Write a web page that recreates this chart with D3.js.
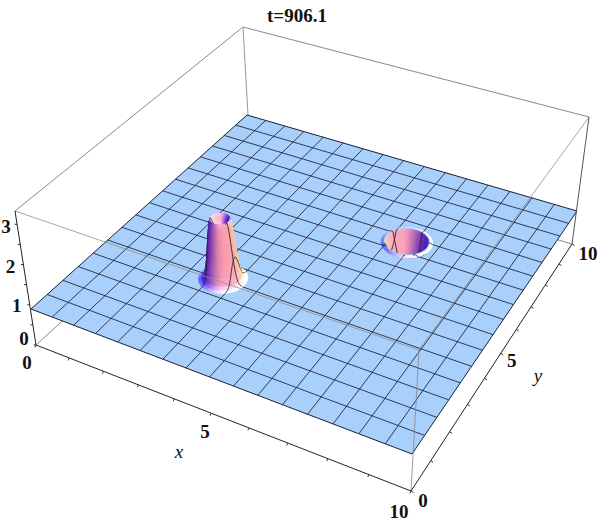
<!DOCTYPE html>
<html><head><meta charset="utf-8">
<script src="https://cdn.jsdelivr.net/npm/d3@7"></script>
<style>html,body{margin:0;background:#fff}svg{display:block}text{font-family:"Liberation Serif",serif;fill:#111}</style>
</head><body><svg id="c" width="600" height="525"></svg>
<script>
// ---- data ----
const titleText = "t=906.1";
const xyDomain = [0, 10];
const zDomain = [0, 3.33];
const planeZ = 0.9;
const meshCells = 16;
const xMinorTicks = [0,1,2,3,4,5,6,7,8,9,10];
const yMinorTicks = [0,1,2,3,4,5,6,7,8,9,10];
const zMinorTicks = [0,0.5,1,1.5,2,2.5,3];
const peakCentre = [3.39, 3.19];
const peakRadius = [0, 0.08, 0.14, 0.20, 0.24, 0.27, 0.32, 0.37, 0.42, 0.47, 0.53, 0.60];
const peakHeight = [2.12, 2.14, 2.22, 2.34, 2.40, 2.30, 1.90, 1.45, 1.15, 0.98, 0.92, 0.9];
const holeCentre = [6.7, 6.65];
const holeRadius = [0, 0.20, 0.40, 0.50, 0.55, 0.58, 0.66];
const holeHeight = [-0.30, -0.10, 0.30, 0.72, 0.92, 0.92, 0.9];
// screen frame of the box (projection calibration)
const floorQuad = [[36,345],[411,491],[572,244],[250,150]];
const ceilQuad  = [[15,211],[419,350],[589,117],[243,27]];
const planeQuad = [[31,309],[412,454],[577,211],[247,115]];
const planeFill = "#a8d0fa";
const meshColor = "#1b2036";
const frameColor = "#8a8a8a";
const axisColor = "#222";

const svg = d3.select("#c");
const sx = d3.scaleLinear().domain(xyDomain).range([0,1]);
const sy = d3.scaleLinear().domain(xyDomain).range([0,1]);
const sz = d3.scaleLinear().domain(zDomain).range([0,1]);
const peakZ = d3.scaleLinear().domain(peakRadius).range(peakHeight).clamp(true);
const holeZ = d3.scaleLinear().domain(holeRadius).range(holeHeight).clamp(true);

function homography(q){
  const [[x0,y0],[x1,y1],[x2,y2],[x3,y3]] = q;
  const dx1=x1-x2, dx2=x3-x2, ax=x0-x1+x2-x3, dy1=y1-y2, dy2=y3-y2, ay=y0-y1+y2-y3;
  const den=dx1*dy2-dx2*dy1, g=(ax*dy2-dx2*ay)/den, h=(dx1*ay-ax*dy1)/den;
  const a=x1-x0+g*x1, b=x3-x0+h*x3, d=y1-y0+g*y1, e=y3-y0+h*y3;
  return (u,v)=>{const w=g*u+h*v+1; return [(a*u+b*v+x0)/w,(d*u+e*v+y0)/w];};
}
const H0=homography(floorQuad), H1=homography(ceilQuad), HP=homography(planeQuad);
function proj(x,y,z){
  const u=sx(x), v=sy(y), p=HP(u,v), a=H0(u,v), b=H1(u,v), s=sz(z)-sz(planeZ);
  return [p[0]+(b[0]-a[0])*s, p[1]+(b[1]-a[1])*s];
}
function frame(x,y,z){
  const u=sx(x), v=sy(y), a=H0(u,v), b=H1(u,v), s=sz(z);
  return [a[0]+(b[0]-a[0])*s, a[1]+(b[1]-a[1])*s];
}
const depth=(x,y)=>HP(sx(x),sy(y))[1];
const line=d3.line();

function height(x,y){
  const rp=Math.hypot(x-peakCentre[0],y-peakCentre[1]);
  const rh=Math.hypot(x-holeCentre[0],y-holeCentre[1]);
  if(rp<peakRadius[peakRadius.length-1]) return peakZ(rp);
  if(rh<holeRadius[holeRadius.length-1]) return holeZ(rh);
  return planeZ;
}
const baseTone=[.66,.82,.98];
const wallRight=[1,.76,.55], wallLeft=[.36,.12,.6], wallFront=[.96,.56,.62], wallBack=[.42,.3,.82];
const tiltLoss=[.8,.8,.05];
function shade(dzdr,th){
  const k=2.2*dzdr, nz=1/Math.hypot(1,k), m=Math.abs(k)*nz;
  const s=k>0?-1:1;                         // horizontal normal direction
  const cx=s*Math.cos(th), cy=s*Math.sin(th);
  const r=(cx+cy)/Math.SQRT2, v=(cx-cy)/Math.SQRT2;
  const wr=r>0?r*r:0, wl=r<0?r*r:0, wf=v>0?v*v:0, wb=v<0?v*v:0;
  const c=t=>Math.round(255*Math.max(0,Math.min(1,t)));
  const ch=i=>baseTone[i]*nz+m*(wr*wallRight[i]+wl*wallLeft[i]+wf*wallFront[i]+wb*wallBack[i])-tiltLoss[i]*wl*m*nz;
  return `rgb(${c(ch(0))},${c(ch(1))},${c(ch(2))})`;
}
const area=q=>d3.polygonArea(q);

// frame pieces behind the plane
const back=svg.append("g").attr("fill","none").attr("stroke",frameColor).attr("stroke-width",1);
const edge=(g,a,b,col)=>g.append("path").attr("d",line([a,b])).attr("stroke",col||frameColor);
edge(back,frame(0,0,3.33),frame(0,10,3.33));
edge(back,frame(0,10,3.33),frame(10,10,3.33));
edge(back,frame(0,10,0),frame(0,10,3.33),"#999");
edge(back,frame(0,0,0),frame(0,10,0));
edge(back,frame(10,10,0),frame(0,10,0));

// plane
svg.append("path").attr("d",line([proj(0,0,planeZ),proj(10,0,planeZ),proj(10,10,planeZ),proj(0,10,planeZ)])+"Z")
  .attr("fill",planeFill).attr("stroke",meshColor).attr("stroke-width",1);

const meshPos=d3.range(1,meshCells).map(i=>i*10/meshCells);
const mesh=svg.append("g").attr("fill","none").attr("stroke",meshColor).attr("stroke-width",.85);
meshPos.forEach(m=>{
  mesh.append("path").attr("d",line([proj(m,0,planeZ),proj(m,10,planeZ)]));
  mesh.append("path").attr("d",line([proj(0,m,planeZ),proj(10,m,planeZ)]));
});

// features: painter-sorted patches and mesh pieces, back-facing patches removed
function feature(id,centre,rad,zf,clip){
  const Rmax=rad[rad.length-1], dr=Rmax/50, N=72, items=[];
  const P=(r,t)=>[centre[0]+r*Math.cos(t),centre[1]+r*Math.sin(t)];
  for(let i=0;i<50;i++)for(let j=0;j<N;j++){
    const r0=i*dr,r1=r0+dr,t0=j*2*Math.PI/N,t1=(j+1)*2*Math.PI/N;
    const corners=[[r0,t0],[r1,t0],[r1,t1],[r0,t1]];
    const q=corners.map(([r,t])=>{const p=P(r,t);return proj(p[0],p[1],zf(r));});
    const flat=corners.map(([r,t])=>{const p=P(r,t);return proj(p[0],p[1],planeZ);});
    if(area(q)*area(flat)<=0) continue;
    const m=P((r0+r1)/2,(t0+t1)/2);
    const col=shade((zf(r1)-zf(r0))/dr,(t0+t1)/2);
    items.push({d:depth(m[0],m[1]),path:line(q)+"Z",fill:col});
  }
  const ds=0.02;
  meshPos.forEach(m=>{
    [[m,null],[null,m]].forEach(([fx,fy])=>{
      for(let a=0;a<10;a+=ds){
        const p0=fx!==null?[fx,a]:[a,fy], p1=fx!==null?[fx,a+ds]:[a+ds,fy];
        const r=Math.hypot((p0[0]+p1[0])/2-centre[0],(p0[1]+p1[1])/2-centre[1]);
        if(r>=Rmax)continue;
        items.push({d:depth(p0[0],p0[1])+1.5,path:line([proj(p0[0],p0[1],height(p0[0],p0[1])),proj(p1[0],p1[1],height(p1[0],p1[1]))]),line:true});
      }
    });
  });
  items.sort((a,b)=>a.d-b.d);
  const g=svg.append("g");
  if(clip){
    const rim=d3.range(0,N).map(j=>{const p=P(Rmax,j*2*Math.PI/N);return proj(p[0],p[1],planeZ);});
    svg.append("clipPath").attr("id",id).append("path").attr("d",line(rim)+"Z");
    g.attr("clip-path",`url(#${id})`);
  }
  g.selectAll("path").data(items).join("path").attr("d",d=>d.path)
    .attr("fill",d=>d.line?"none":d.fill)
    .attr("stroke",d=>d.line?meshColor:d.fill)
    .attr("stroke-width",d=>d.line?.85:.5);
}
feature("holeClip",holeCentre,holeRadius,holeZ,true);
feature("peakClip",peakCentre,peakRadius,peakZ,false);

// front frame
const front=svg.append("g").attr("fill","none").attr("stroke-width",1);
edge(front,frame(0,0,3.33),frame(10,0,3.33)).attr("opacity",.75);
edge(front,frame(10,0,3.33),frame(10,10,3.33)).attr("opacity",.75);
edge(front,frame(10,0,0),frame(10,0,3.33)).attr("opacity",.85);
edge(front,frame(0,0,0),frame(10,0,0),axisColor);
edge(front,frame(10,0,0),frame(10,10,0),axisColor);
edge(front,frame(0,0,0),frame(0,0,3.33),axisColor);
edge(front,frame(10,10,0),frame(10,10,3.33),"#555");

// ticks
const ticks=svg.append("g").attr("fill","none").attr("stroke",axisColor).attr("stroke-width",.9);
xMinorTicks.forEach(t=>{const a=frame(t,0,0); ticks.append("path").attr("d",line([a,[a[0]-1,a[1]+2.5]]));});
yMinorTicks.forEach(t=>{const a=frame(10,t,0); ticks.append("path").attr("d",line([a,[a[0]+2.5,a[1]+1.5]]));});
zMinorTicks.forEach(t=>{const a=frame(0,0,t); ticks.append("path").attr("d",line([a,[a[0]-2.5,a[1]]]));});

// labels
const lab=(txt,p,dx,dy,italic)=>svg.append("text").text(txt).attr("x",p[0]+dx).attr("y",p[1]+dy)
  .attr("text-anchor","middle").attr("dominant-baseline","central")
  .attr("font-size",19).attr("font-weight",italic?"normal":"bold").attr("font-style",italic?"italic":"normal");
lab(titleText,[297,15],0,0);
lab("0",frame(0,0,0),-9,17);
lab("5",frame(5,0,0),-6,18);
lab("10",frame(10,0,0),-12,20);
lab("0",frame(10,0,0),12,9);
lab("5",frame(10,5,0),11,7);
lab("10",frame(10,10,0),16,9);
lab("0",frame(0,0,0),-12,-7);
lab("1",frame(0,0,1),-13,1);
lab("2",frame(0,0,2),-13,2);
lab("3",frame(0,0,3),-11,2);
lab("x",[179,451],0,0,true);
lab("y",[538,375],0,0,true);
</script></body></html>
